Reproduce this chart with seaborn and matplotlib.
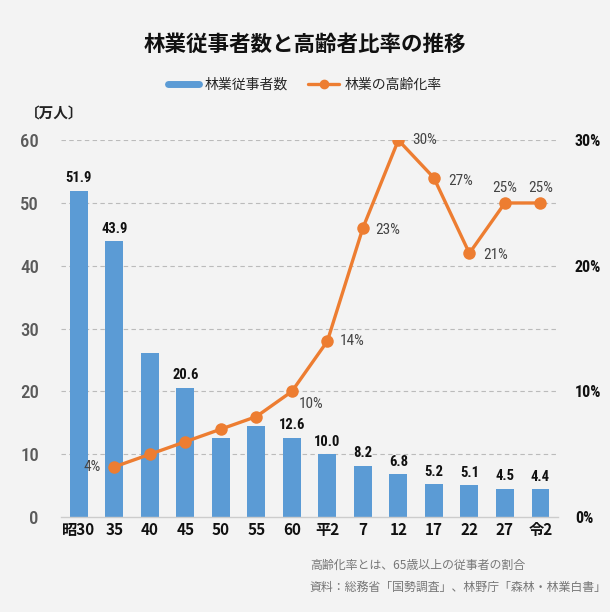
import numpy as np
import pandas as pd
import matplotlib
matplotlib.use("Agg")
import matplotlib.pyplot as plt
import seaborn as sns
from matplotlib.lines import Line2D
from matplotlib import font_manager as fm

categories = ["昭30", "35", "40", "45", "50", "55", "60", "平2", "7", "12", "17", "22", "27", "令2"]
workers = [51.9, 43.9, 26.1, 20.6, 12.6, 14.5, 12.6, 10.0, 8.2, 6.8, 5.2, 5.1, 4.5, 4.4]
worker_labels = ["51.9", "43.9", "", "20.6", "", "", "12.6", "10.0", "8.2", "6.8", "5.2", "5.1", "4.5", "4.4"]
aging = [np.nan, 4, 5, 6, 7, 8, 10, 14, 23, 30, 27, 21, 25, 25]
aging_labels = ["", "4%", "", "", "", "", "10%", "14%", "23%", "30%", "27%", "21%", "25%", "25%"]
left_ticks = [0, 10, 20, 30, 40, 50, 60]
right_ticks = [0, 10, 20, 30]

sns.set_theme(style="white")
plt.rcParams["font.family"] = ["Noto Sans CJK JP", "DejaVu Sans"]

names = {f.name for f in fm.fontManager.ttflist}
NARROW = ["DejaVu Sans"]
for cand in ["Roboto Condensed", "Liberation Sans Narrow", "Open Sans Condensed", "Roboto"]:
    if cand in names:
        NARROW = [cand]
        break

BG = "#f3f3f3"
BLUE = "#5b9bd5"
ORANGE = "#ed7d31"

fig = plt.figure(figsize=(6.1, 6.12), dpi=100, facecolor=BG)
ax = fig.add_axes([0.100, 0.155, 0.815, 0.616])
ax.set_facecolor("none")

df = pd.DataFrame({"cat": categories, "workers": workers, "aging": aging})
df["pos"] = np.arange(len(categories))

sns.barplot(data=df, x="cat", y="workers", order=categories, color=BLUE,
            saturation=1, width=0.5, ax=ax, zorder=2, linewidth=0, edgecolor="none")
ax.set_xlim(-0.5, len(categories) - 0.5)
ax.set_ylim(0, 60)
ax.set_yticks(left_ticks)
ax.set_xlabel("")
ax.set_ylabel("")
for y in left_ticks[1:]:
    ax.axhline(y, color="#bbbbbb", lw=0.8, ls=(0, (4, 3)), zorder=0)
for s in ["left", "right", "top"]:
    ax.spines[s].set_visible(False)
ax.spines["bottom"].set_color("#cccccc")
ax.spines["bottom"].set_linewidth(1.0)
ax.tick_params(axis="both", length=0)
ax.tick_params(axis="y", pad=16)
for t in ax.get_yticklabels():
    t.set_fontsize(13.5)
    t.set_color("#5a5a5a")
    t.set_fontweight("medium")
    t.set_family(NARROW)
for t in ax.get_xticklabels():
    t.set_fontsize(11)
    t.set_fontweight("bold")
    t.set_color("#111111")

for i, (v, lab) in enumerate(zip(workers, worker_labels)):
    if lab:
        ax.annotate(lab, (i, v), xytext=(0, 4), textcoords="offset points",
                    ha="center", va="bottom", fontsize=10.5, fontweight="bold",
                    color="#111111", family=NARROW)

ax2 = ax.twinx()
ax2.set_facecolor("none")
sns.lineplot(data=df, x="pos", y="aging", color=ORANGE, lw=2.4, marker="o",
             markersize=9, markeredgewidth=0, ax=ax2, zorder=3)
ax2.set_ylim(0, 30)
ax2.set_yticks(right_ticks)
ax2.set_yticklabels([f"{v}%" for v in right_ticks])
ax2.set_xlim(-0.5, len(categories) - 0.5)
ax2.set_ylabel("")
ax2.set_xlabel("")
for s in ["left", "right", "top", "bottom"]:
    ax2.spines[s].set_visible(False)
ax2.tick_params(axis="y", length=0, pad=12)
for t in ax2.get_yticklabels():
    t.set_fontsize(11.5)
    t.set_color("#111111")
    t.set_fontweight("bold")
    t.set_family(NARROW)

offsets = {1: (-10, 0, "right", "center"), 6: (5, -9, "left", "center"),
           7: (9, 0, "left", "center"), 8: (9, -1, "left", "center"),
           9: (10, 0, "left", "center"), 10: (10, -2, "left", "center"),
           11: (10, -1, "left", "center"), 12: (0, 11, "center", "center"),
           13: (0, 11, "center", "center")}
for i, lab in enumerate(aging_labels):
    if lab:
        dx, dy, ha, va = offsets[i]
        ax2.annotate(lab, (i, aging[i]), xytext=(dx, dy), textcoords="offset points",
                     ha=ha, va=va, fontsize=11, color="#444444",
                     family=NARROW, zorder=4)

fig.text(0.5, 0.928, "林業従事者数と高齢者比率の推移", ha="center", va="center",
         fontsize=15.5, fontweight="bold", color="#111111")
fig.text(0.04, 0.815, "〔万人〕", ha="left", va="center", fontsize=10.5,
         color="#222222", fontweight="bold")

handles = [Line2D([0], [0], color=BLUE, lw=5),
           Line2D([0], [0], color=ORANGE, lw=2.4, marker="o", markersize=6)]
fig.legend(handles, ["林業従事者数", "林業の高齢化率"], loc="center",
           bbox_to_anchor=(0.5, 0.862), ncol=2, frameon=False, fontsize=10,
           handlelength=2.2, columnspacing=1.5, handletextpad=0.4)

fig.text(0.508, 0.077, "高齢化率とは、65歳以上の従事者の割合", ha="left", va="center",
         fontsize=8.6, color="#777777")
fig.text(0.508, 0.041, "資料：総務省「国勢調査」、林野庁「森林・林業白書」", ha="left", va="center",
         fontsize=8.6, color="#777777")

fig.savefig("out.png", dpi=100, facecolor=BG)
